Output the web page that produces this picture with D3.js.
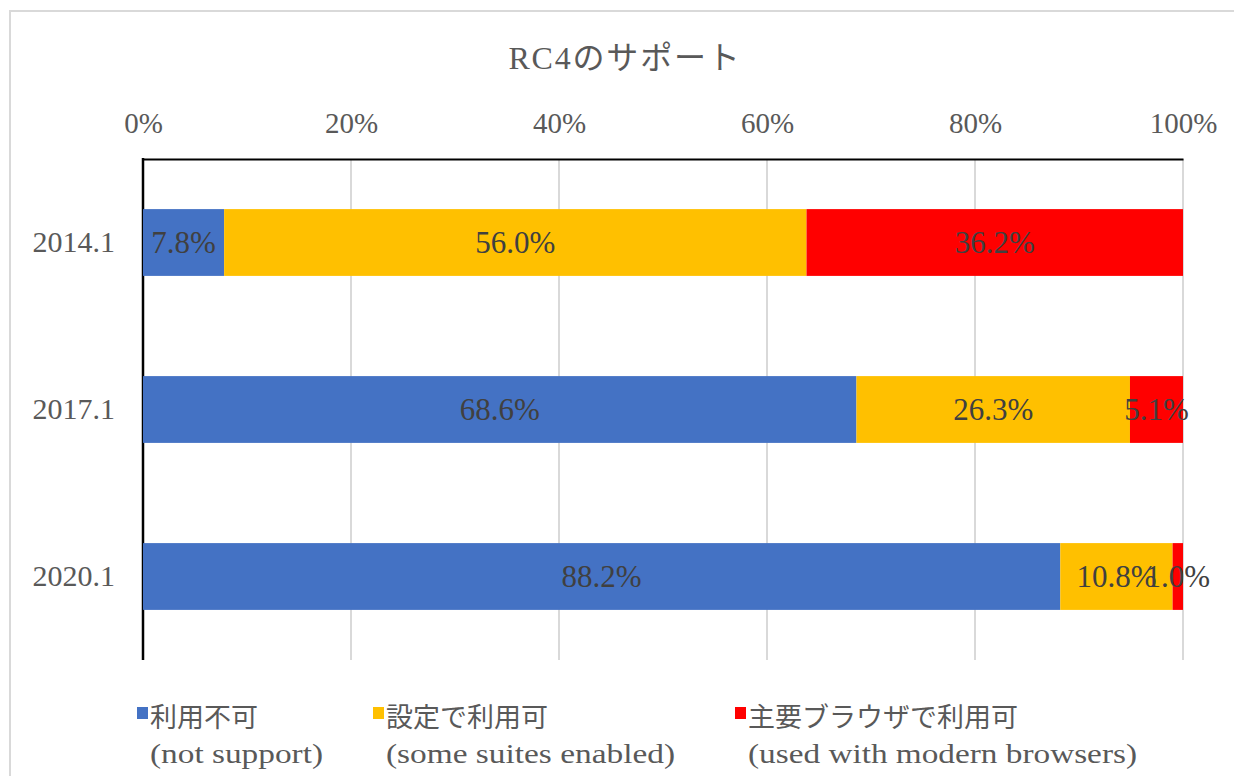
<!DOCTYPE html>
<html><head><meta charset="utf-8">
<script src="https://cdn.jsdelivr.net/npm/d3@7"></script>
<style>body{margin:0;background:#fff}svg{display:block}</style>
</head><body>
<svg id="c" width="1234" height="776"></svg>
<script>
const categories = ["2014.1", "2017.1", "2020.1"];
const seriesNames = ["利用不可", "設定で利用可", "主要ブラウザで利用可"];
const seriesSub = ["(not support)", "(some suites enabled)", "(used with modern browsers)"];
const notSupport = [7.8, 68.6, 88.2];
const someEnabled = [56.0, 26.3, 10.8];
const modern = [36.2, 5.1, 1.0];
const tickValues = [0, 20, 40, 60, 80, 100];
const colors = ["#4472C4", "#FFC000", "#FF0000"];

const svg = d3.select("#c");
const serif = "'Liberation Serif', serif";
const mixed = "'Liberation Serif', 'Noto Sans CJK JP', serif";
const jp = "'Noto Sans CJK JP', sans-serif";

// outer frame
svg.append("rect").attr("x", 10).attr("y", 11).attr("width", 1260).attr("height", 800)
  .attr("fill", "#fff").attr("stroke", "#d9d9d9").attr("stroke-width", 2);

const L = 143, R = 1183, T = 159, B = 660;
const x = d3.scaleLinear().domain([0, 100]).range([L, R]);
const y = d3.scaleBand().domain(categories).range([T, B]).paddingInner(0.6).paddingOuter(0.3);

// title
svg.append("text").attr("x", 625).attr("y", 69).attr("text-anchor", "middle")
  .attr("font-family", mixed).attr("font-size", 32).attr("letter-spacing", 1.8).attr("fill", "#595959")
  .text("RC4のサポート");

// gridlines
svg.append("g").selectAll("line").data(tickValues.filter(d => d > 0)).join("line")
  .attr("x1", d => x(d)).attr("x2", d => x(d)).attr("y1", T).attr("y2", B)
  .attr("stroke", "#d9d9d9").attr("stroke-width", 2);

// top axis
const ax = svg.append("g").attr("transform", `translate(0,${T})`)
  .call(d3.axisTop(x).tickValues(tickValues).tickSize(0).tickPadding(26).tickFormat(d => d + "%"));
ax.select(".domain").attr("stroke", "#000").attr("stroke-width", 2);
ax.selectAll("text").attr("font-family", serif).attr("font-size", 29).attr("fill", "#595959");

// left axis
const ay = svg.append("g").attr("transform", `translate(${L},0)`)
  .call(d3.axisLeft(y).tickSize(0).tickPadding(28));
ay.select(".domain").remove();
ay.selectAll("text").attr("font-family", serif).attr("font-size", 30).attr("fill", "#595959");
svg.append("line").attr("x1", L).attr("x2", L).attr("y1", T - 1).attr("y2", B)
  .attr("stroke", "#000").attr("stroke-width", 2.5);

// stacked data
const rows = categories.map((c, i) => ({cat: c, s0: notSupport[i], s1: someEnabled[i], s2: modern[i]}));
const stack = d3.stack().keys(["s0", "s1", "s2"])(rows);

const gBars = svg.append("g");
stack.forEach((layer, li) => {
  gBars.append("g").selectAll("rect").data(layer).join("rect")
    .attr("x", d => x(d[0])).attr("width", d => x(d[1]) - x(d[0]))
    .attr("y", d => y(d.data.cat)).attr("height", y.bandwidth())
    .attr("fill", colors[li]);
});
stack.forEach((layer, li) => {
  gBars.append("g").selectAll("text").data(layer).join("text")
    .attr("x", d => (x(d[0]) + x(d[1])) / 2)
    .attr("y", d => y(d.data.cat) + y.bandwidth() / 2)
    .attr("dy", "0.34em").attr("text-anchor", "middle")
    .attr("font-family", serif).attr("font-size", 31).attr("fill", "#404040")
    .text(d => (d[1] - d[0]).toFixed(1) + "%");
});

// legend
const legX = [137, 373, 735];
const subW = [173, 289, 389];
const lg = svg.append("g");
seriesNames.forEach((n, i) => {
  lg.append("rect").attr("x", legX[i]).attr("y", 707).attr("width", 11).attr("height", 12).attr("fill", colors[i]);
  lg.append("text").attr("x", legX[i] + 13).attr("y", 727)
    .attr("font-family", jp).attr("font-size", 27).attr("fill", "#595959").text(n);
  lg.append("text").attr("x", legX[i] + 13).attr("y", 763)
    .attr("font-family", serif).attr("font-size", 28).attr("fill", "#595959")
    .attr("textLength", subW[i]).attr("lengthAdjust", "spacingAndGlyphs").text(seriesSub[i]);
});
</script>
</body></html>
